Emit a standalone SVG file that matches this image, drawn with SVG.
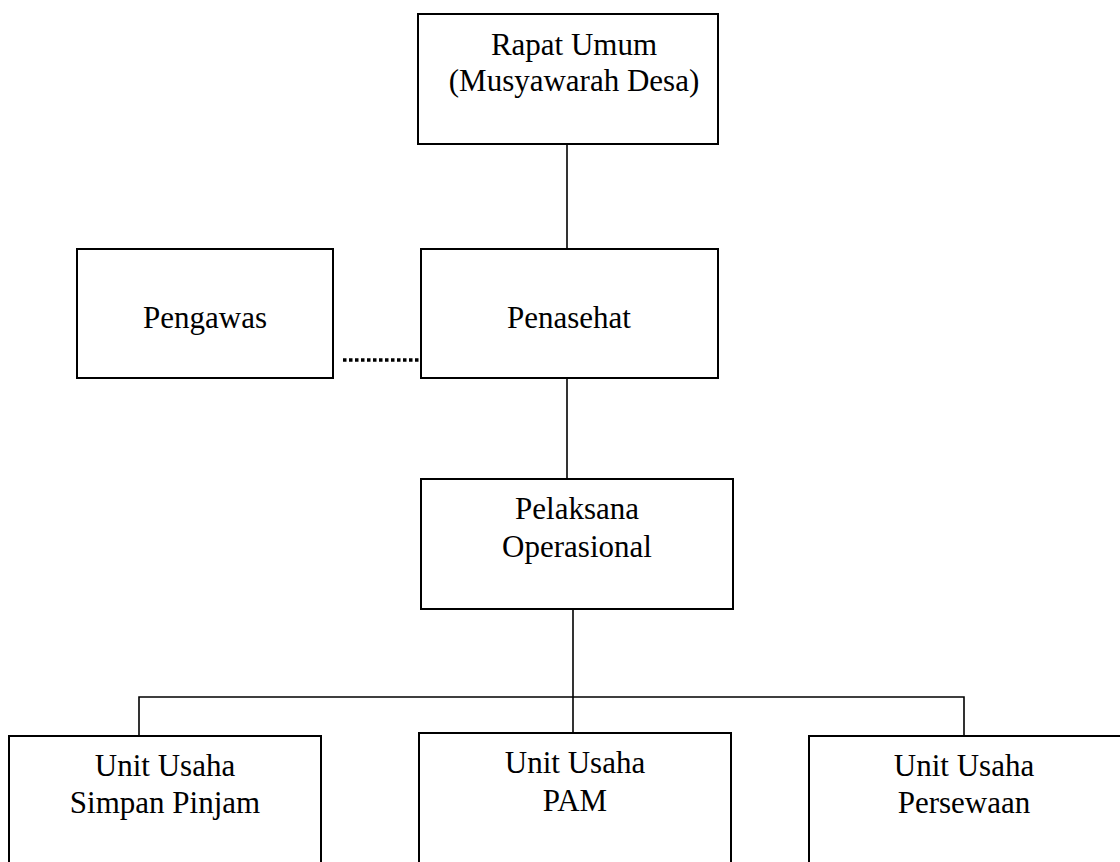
<svg xmlns="http://www.w3.org/2000/svg" width="1120" height="862" viewBox="0 0 1120 862">
<style>
.box{fill:#fff;stroke:#000;stroke-width:2}
.ln{stroke:#000;stroke-width:1.6;fill:none}
.dot{stroke:#000;stroke-width:3.5;stroke-dasharray:3.5 2.5;fill:none}
text{font-family:"Liberation Serif","Times New Roman",serif;font-size:31px;fill:#000;text-anchor:middle}
</style>
<rect width="1120" height="862" fill="#fff"/>
<g id="connectors">
<line class="ln" x1="567" y1="144" x2="567" y2="249"/>
<line class="ln" x1="567" y1="378" x2="567" y2="479"/>
<line class="ln" x1="573" y1="609" x2="573" y2="737"/>
<polyline class="ln" points="139,736 139,697 964,697 964,736"/>
<line class="dot" x1="343" y1="360" x2="421" y2="360"/>
</g>
<g id="rapat">
<rect class="box" x="418" y="14" width="300" height="130"/>
<text x="574" y="55">Rapat Umum</text>
<text x="574" y="91">(Musyawarah Desa)</text>
</g>
<g id="pengawas">
<rect class="box" x="77" y="249" width="256" height="129"/>
<text x="205" y="328">Pengawas</text>
</g>
<g id="penasehat">
<rect class="box" x="421" y="249" width="297" height="129"/>
<text x="569" y="328">Penasehat</text>
</g>
<g id="pelaksana">
<rect class="box" x="421" y="479" width="312" height="130"/>
<text x="577" y="519">Pelaksana</text>
<text x="577" y="557">Operasional</text>
</g>
<g id="unit-simpan">
<rect class="box" x="9" y="736" width="312" height="150"/>
<text x="165" y="776">Unit Usaha</text>
<text x="165" y="813">Simpan Pinjam</text>
</g>
<g id="unit-pam">
<rect class="box" x="419" y="733" width="312" height="150"/>
<text x="575" y="773">Unit Usaha</text>
<text x="575" y="811">PAM</text>
</g>
<g id="unit-persewaan">
<rect class="box" x="809" y="736" width="330" height="150"/>
<text x="964" y="776">Unit Usaha</text>
<text x="964" y="813">Persewaan</text>
</g>
</svg>
